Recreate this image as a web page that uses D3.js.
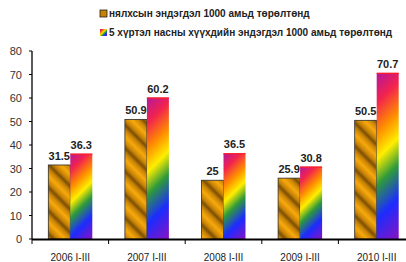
<!DOCTYPE html>
<html>
<head>
<meta charset="utf-8">
<script src="https://cdn.jsdelivr.net/npm/d3@7"></script>
<style>
  body { margin: 0; background: #fff; }
  svg { display: block; font-family: Arial, "Liberation Sans", sans-serif; }
</style>
</head>
<body>
<div id="vis"></div>
<script>
// chart data
let categories = ['2006 I-III', '2007 I-III', '2008 I-III', '2009 I-III', '2010 I-III'];
let infant = [31.5, 50.9, 25, 25.9, 50.5];
let underFive = [36.3, 60.2, 36.5, 30.8, 70.7];
let seriesNames = ['нялхсын эндэгдэл 1000 амьд төрөлтөнд', '5 хүртэл насны  хүүхдийн эндэгдэл 1000 амьд төрөлтөнд'];
let yTicks = [0, 10, 20, 30, 40, 50, 60, 70, 80];

let width = 406, height = 262;

let svg = d3.select('#vis')
  .append('svg')
    .attr('width', width)
    .attr('height', height);

let x = d3.scaleBand()
  .domain(categories)
  .range([32, 415]);

let y = d3.scaleLinear()
  .domain([0, 80])
  .range([239, 51]);

let barW = 22;

let defs = svg.append('defs');

// brass stripes for the first series
let gold = defs.append('linearGradient')
  .attr('id', 'gold')
  .attr('gradientUnits', 'userSpaceOnUse')
  .attr('x1', 0).attr('y1', 0)
  .attr('x2', 5.8).attr('y2', -5.8)
  .attr('spreadMethod', 'reflect');
gold.append('stop').attr('offset', 0).attr('stop-color', '#7c4f02');
gold.append('stop').attr('offset', 0.4).attr('stop-color', '#c88306');
gold.append('stop').attr('offset', 1).attr('stop-color', '#f7a90c');

let rainbowStops = [
  [0, '#b3179e'], [0.16, '#f2234e'], [0.32, '#ff8c00'], [0.46, '#ffee00'],
  [0.6, '#2e9a3a'], [0.78, '#1c2cff'], [1, '#8a12c0']
];

// rainbow, one gradient per bar so the bands run diagonally
function rainbow(id, x0, y0, w, h) {
  let g = defs.append('linearGradient')
    .attr('id', id)
    .attr('gradientUnits', 'userSpaceOnUse')
    .attr('x1', x0).attr('y1', y0)
    .attr('x2', x0 + (w + h) / 2).attr('y2', y0 + (w + h) / 2);
  rainbowStops.forEach(s => g.append('stop').attr('offset', s[0]).attr('stop-color', s[1]));
}

// axes
svg.append('line')
  .attr('x1', 32).attr('x2', 32)
  .attr('y1', y(80)).attr('y2', y(0))
  .attr('stroke', '#000').attr('stroke-width', 1.3);

svg.selectAll('.ytick')
  .data(yTicks)
  .enter().append('line')
    .attr('x1', 29).attr('x2', 32)
    .attr('y1', d => y(d)).attr('y2', d => y(d))
    .attr('stroke', '#000');

svg.selectAll('.ylab')
  .data(yTicks)
  .enter().append('text')
    .attr('x', 22)
    .attr('y', d => y(d) + 4)
    .attr('text-anchor', 'end')
    .attr('font-size', 11)
    .attr('fill', '#333')
    .text(d => d);

// bars
categories.forEach((c, i) => {
  let cx = x(c) + x.bandwidth() / 2;

  svg.append('rect')
    .attr('x', cx - barW)
    .attr('y', y(infant[i]))
    .attr('width', barW)
    .attr('height', y(0) - y(infant[i]))
    .attr('fill', 'url(#gold)')
    .attr('stroke', '#2a2a2a')
    .attr('stroke-width', 0.8);

  let top2 = y(underFive[i]);
  rainbow('rb' + i, cx, top2, barW, y(0) - top2);
  svg.append('rect')
    .attr('x', cx)
    .attr('y', top2)
    .attr('width', barW)
    .attr('height', y(0) - top2)
    .attr('fill', 'url(#rb' + i + ')');
  svg.append('line')
    .attr('x1', cx).attr('x2', cx + barW)
    .attr('y1', top2 + 0.5).attr('y2', top2 + 0.5)
    .attr('stroke', '#ff2020').attr('stroke-width', 1.2);

  svg.append('text')
    .attr('x', cx - barW / 2)
    .attr('y', y(infant[i]) - 5)
    .attr('text-anchor', 'middle')
    .attr('font-size', 11)
    .attr('font-weight', 'bold')
    .attr('fill', '#222')
    .text(infant[i]);

  svg.append('text')
    .attr('x', cx + barW / 2)
    .attr('y', top2 - 5)
    .attr('text-anchor', 'middle')
    .attr('font-size', 11)
    .attr('font-weight', 'bold')
    .attr('fill', '#222')
    .text(underFive[i]);
});

// x axis
svg.append('line')
  .attr('x1', 32).attr('x2', width)
  .attr('y1', y(0) + 0.5).attr('y2', y(0) + 0.5)
  .attr('stroke', '#000').attr('stroke-width', 2);

svg.selectAll('.xtick')
  .data(categories)
  .enter().append('line')
    .attr('x1', d => x(d)).attr('x2', d => x(d))
    .attr('y1', y(0)).attr('y2', y(0) + 5)
    .attr('stroke', '#000');

svg.selectAll('.xlab')
  .data(categories)
  .enter().append('text')
    .attr('x', d => x(d) + x.bandwidth() / 2)
    .attr('y', 261)
    .attr('text-anchor', 'middle')
    .attr('font-size', 10)
    .attr('fill', '#222')
    .text(d => d);

// legend
let legRb = defs.append('linearGradient')
  .attr('id', 'legrb')
  .attr('x1', 0).attr('y1', 0).attr('x2', 1).attr('y2', 1);
rainbowStops.forEach(s => legRb.append('stop').attr('offset', s[0]).attr('stop-color', s[1]));

let legend = svg.selectAll('.leg')
  .data(seriesNames)
  .enter().append('g')
    .attr('transform', (d, i) => 'translate(100,' + (10 + i * 19) + ')');

legend.append('rect')
  .attr('width', 7).attr('height', 7)
  .attr('fill', (d, i) => i === 0 ? '#c98300' : 'url(#legrb)')
  .attr('stroke', (d, i) => i === 0 ? '#222' : 'none')
  .attr('stroke-width', 0.8);

legend.append('text')
  .attr('x', 9)
  .attr('y', 7)
  .attr('font-size', 10)
  .attr('font-weight', 'bold')
  .attr('fill', '#222')
  .text(d => d);
</script>
</body>
</html>
